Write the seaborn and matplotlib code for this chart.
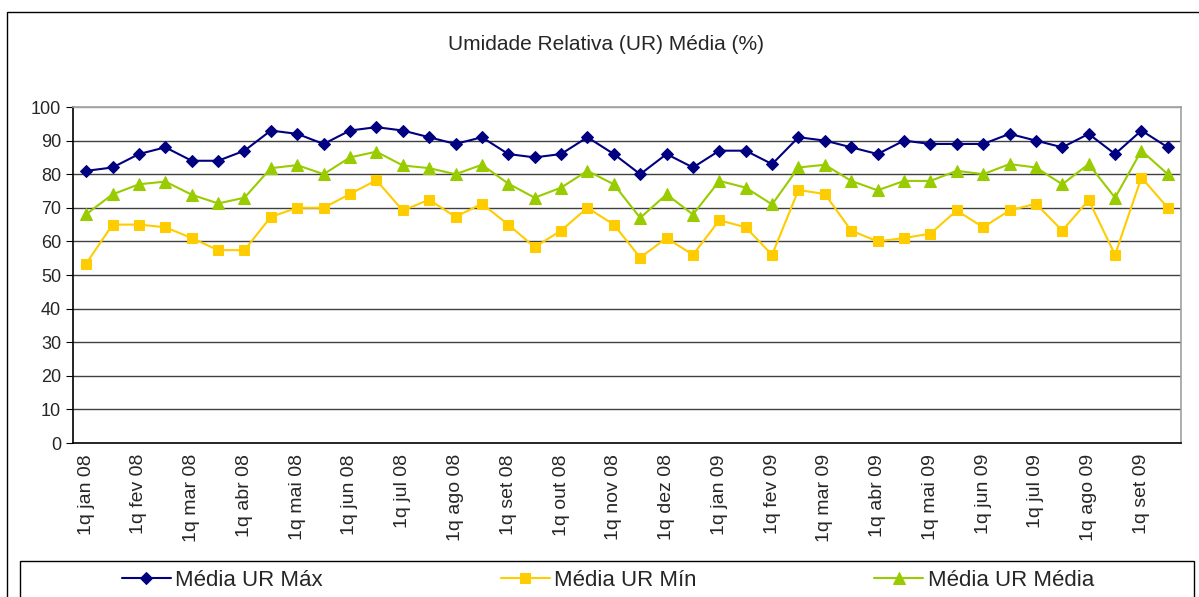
import numpy as np
import pandas as pd
import matplotlib
matplotlib.use("Agg")
import matplotlib.pyplot as plt
from matplotlib.patches import Rectangle
import seaborn as sns

sns.set_style("white")
plt.rcParams["font.family"] = ["Liberation Sans", "DejaVu Sans"]

# quinzenas: 1q / 2q de cada mes, jan 08 .. set 09
meses = ["jan 08", "fev 08", "mar 08", "abr 08", "mai 08", "jun 08", "jul 08",
         "ago 08", "set 08", "out 08", "nov 08", "dez 08", "jan 09", "fev 09",
         "mar 09", "abr 09", "mai 09", "jun 09", "jul 09", "ago 09", "set 09"]
periodos = [f"{q}q {m}" for m in meses for q in (1, 2)]

ur_max = [81, 82, 86, 88, 84, 84, 87, 93, 92, 89, 93, 94, 93, 91, 89, 91, 86, 85,
          86, 91, 86, 80, 86, 82, 87, 87, 83, 91, 90, 88, 86, 90, 89, 89, 89, 92,
          90, 88, 92, 86, 93, 88]
ur_min = [53.4, 65, 65, 64.2, 61, 57.4, 57.4, 67.3, 70, 70, 74.1, 78.2, 69.2, 72.4,
          67.3, 71.2, 65, 58.3, 63.2, 70, 65, 55.2, 61, 56, 66.3, 64.2, 56, 75.3,
          74.1, 63.2, 60, 61, 62.3, 69.2, 64.2, 69.2, 71.2, 63.2, 72.3, 56, 79, 70]
ur_media = [68.1, 74, 77, 77.8, 73.9, 71.3, 73, 81.8, 82.7, 80, 85, 86.7, 82.6,
            81.8, 80, 82.8, 77.2, 73, 76, 81, 77, 67, 74, 68, 78, 76, 71, 82, 82.8,
            78, 75.2, 78, 78, 81, 80, 83, 82, 77, 83, 73, 87, 80]

series = ["Média UR Máx", "Média UR Mín", "Média UR Média"]
cores = ["#000080", "#FFCC00", "#99CC00"]
marcas = ["D", "s", "^"]
tamanhos = [6.5, 7.5, 8.5]

df = pd.DataFrame({"periodo": periodos, series[0]: ur_max,
                   series[1]: ur_min, series[2]: ur_media})
df["x"] = np.arange(len(df))
longo = df.melt(id_vars=["periodo", "x"], value_vars=series,
                var_name="serie", value_name="ur")

fig = plt.figure(figsize=(11.99, 5.97), dpi=100)
fig.patches.append(Rectangle((7 / 1199, -0.1), 1.2, 1.1 - 12 / 597,
                             transform=fig.transFigure, fill=False,
                             edgecolor="black", linewidth=1))
ax = fig.add_axes([73 / 1199, 1 - 443 / 597, 1108 / 1199, 336 / 597])

for nome, cor, mk, ms in zip(series, cores, marcas, tamanhos):
    sub = longo[longo["serie"] == nome]
    sns.lineplot(data=sub, x="x", y="ur", ax=ax, color=cor, marker=mk,
                 markersize=ms, markeredgecolor=cor, linewidth=1.5,
                 label=nome, legend=False)

ax.set_xlim(-0.5, len(periodos) - 0.5)
ax.set_ylim(0, 100)
ax.set_yticks(range(0, 101, 10))
ax.set_xticks(df["x"][::2])
ax.set_xticklabels(df["periodo"][::2], rotation=90, fontsize=14)
ax.set_xticks(np.arange(len(periodos) + 1) - 0.5, minor=True)
ax.tick_params(axis="x", which="major", length=0, pad=8)
ax.tick_params(axis="x", which="minor", length=5, direction="out", color="black")
ax.tick_params(axis="y", length=5, direction="out", color="black", labelsize=13)
ax.tick_params(axis="both", bottom=True, left=True)
ax.set_xlabel("")
ax.set_ylabel("")

for v in range(10, 101, 10):
    ax.axhline(v, color="#404040" if v < 100 else "#a0a0a0", linewidth=1, zorder=0)

for lado in ["left", "bottom"]:
    ax.spines[lado].set_color("black")
    ax.spines[lado].set_linewidth(1.2)
for lado in ["top", "right"]:
    ax.spines[lado].set_color("#a0a0a0")
    ax.spines[lado].set_linewidth(1.2)

fig.text(606 / 1199, 1 - 45 / 597, "Umidade Relativa (UR) Média (%)",
         ha="center", va="center", fontsize=15)

fig.patches.append(Rectangle((20 / 1199, -0.1), 1174 / 1199, 0.1 + 36 / 597,
                             transform=fig.transFigure, fill=True, facecolor="white",
                             edgecolor="black", linewidth=1))
handles, labels = ax.get_legend_handles_labels()
fig.legend(handles, labels, loc="center", ncol=3, frameon=False, fontsize=16,
           bbox_to_anchor=(608 / 1199, 1 - 580 / 597), columnspacing=8.0,
           handlelength=2.2, handletextpad=0.2)

fig.savefig("out.png", dpi=100)
